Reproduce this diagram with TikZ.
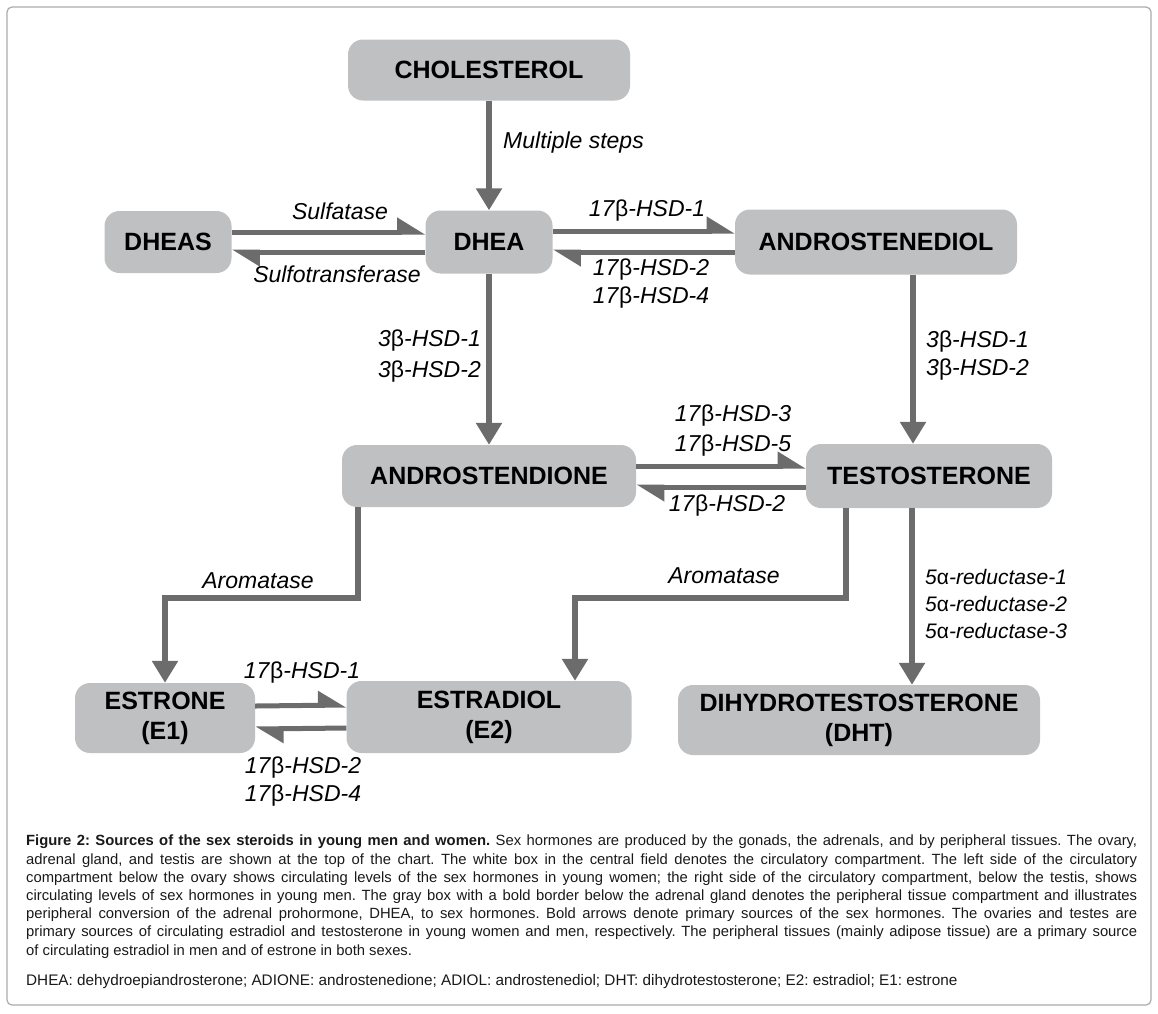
\documentclass[tikz,border=0pt]{standalone}
\usepackage{fontspec}
\setmainfont{Liberation Sans}
\usetikzlibrary{arrows.meta}
\definecolor{boxgray}{RGB}{190,192,193}
\definecolor{arrowgray}{RGB}{108,108,108}
\definecolor{framegray}{RGB}{170,170,170}
\newcommand\capspacing{\spaceskip=0.278em plus 0.4em minus 0.22em\relax}
\newcommand\capline[1]{\hbox to 1111pt{#1}}
\tikzset{
    steroid/.style={fill=boxgray, rounded corners=15pt, inner sep=0pt, align=center,
        font=\fontsize{25}{30}\selectfont\bfseries, text=black},
    enzyme/.style={inner sep=0pt, font=\fontsize{23}{28}\selectfont\itshape, text=black},
    conv/.style={draw=arrowgray, line width=5.5pt, -{Triangle[width=25pt,length=22pt]}},
    half/.style={draw=arrowgray, line width=5pt, -{Triangle[harpoon,width=28pt,length=24pt]}},
    caption/.style={inner sep=0pt, text=black!90, font=\fontsize{14.8}{18.2}\selectfont\frenchspacing}
}
\begin{document}
\begin{tikzpicture}[x=1pt, y=-1pt]
    \useasboundingbox (0,0) rectangle (1158,1013);
    \draw[framegray, line width=1.2pt, rounded corners=5pt] (7,7) rectangle (1151,1005);
    % steroids
    \node[steroid, minimum width=282pt, minimum height=61pt] (chol) at (489,70) {CHOLESTEROL};
    \node[steroid, minimum width=127pt, minimum height=62pt] (dheas) at (168,242) {DHEAS};
    \node[steroid, minimum width=127pt, minimum height=63pt] (dhea) at (489,242) {DHEA};
    \node[steroid, minimum width=282pt, minimum height=65pt] (adiol) at (876,242) {ANDROSTENEDIOL};
    \node[steroid, minimum width=294pt, minimum height=62pt] (adione) at (489,476) {ANDROSTENDIONE};
    \node[steroid, minimum width=246pt, minimum height=64pt] (testo) at (929,476) {TESTOSTERONE};
    \node[steroid, minimum width=180pt, minimum height=70pt] (estrone) at (165,718) {ESTRONE\\(E1)};
    \node[steroid, minimum width=285pt, minimum height=72pt] (estradiol) at (489,717) {ESTRADIOL\\(E2)};
    \node[steroid, minimum width=362pt, minimum height=70pt] (dht) at (859,720) {DIHYDROTESTOSTERONE\\(DHT)};
    % conversions
    \draw[conv] (chol.south) -- (dhea.north);
    \draw[half] ([yshift=10pt]dheas.east) -- ([yshift=10pt]dhea.west);
    \draw[half] ([yshift=-10pt]dhea.west) -- ([yshift=-10pt]dheas.east);
    \draw[half] ([yshift=11pt]dhea.east) -- ([yshift=11pt]adiol.west);
    \draw[half] ([yshift=-10pt]adiol.west) -- ([yshift=-10pt]dhea.east);
    \draw[conv] (dhea.south) -- (adione.north);
    \draw[conv] ([xshift=37pt]adiol.south) -- ([xshift=37pt]adiol.south |- testo.north);
    \draw[half] ([yshift=10pt]adione.east) -- ([yshift=10pt]testo.west);
    \draw[half] ([yshift=-11pt]testo.west) -- ([yshift=-11pt]adione.east);
    \draw[conv] ([xshift=-131pt]adione.south) -- ++(0,91) -| (estrone.north);
    \draw[conv] ([xshift=-83pt]testo.south) -- ++(0,90) -| ([xshift=86pt]estradiol.north);
    \draw[conv] ([xshift=-17pt]testo.south) -- ([xshift=-17pt]testo.south |- dht.north);
    \draw[half] ([yshift=12pt]estrone.east) -- ([yshift=12pt]estradiol.west);
    \draw[half] ([yshift=-11pt]estradiol.west) -- ([yshift=-11pt]estrone.east);
    % enzymes
    \node[enzyme, anchor=west] (msteps) at (503,143) {Multiple steps};
    \node[enzyme] (sulfa) at (340,211) {Sulfatase};
    \node[enzyme] (sulfo) at (337,274) {Sulfotransferase};
    \node[enzyme] (hsdA) at (647,211) {17\textup{β}-HSD-1};
    \node[enzyme, align=center] (hsdB) at (651,284) {17\textup{β}-HSD-2\\17\textup{β}-HSD-4};
    \node[enzyme, anchor=east, align=right] (hsdC) at (481,356) {3\textup{β}-HSD-1\\[3pt]3\textup{β}-HSD-2};
    \node[enzyme, anchor=west, align=left] (hsdD) at (926,356) {3\textup{β}-HSD-1\\3\textup{β}-HSD-2};
    \node[enzyme, align=center] (hsdE) at (733,431) {17\textup{β}-HSD-3\\[2pt]17\textup{β}-HSD-5};
    \node[enzyme] (hsdF) at (727,506) {17\textup{β}-HSD-2};
    \node[enzyme] (aromA) at (258,581) {Aromatase};
    \node[enzyme] (aromB) at (724,576) {Aromatase};
    \node[enzyme, anchor=west, align=left, font=\fontsize{21}{27}\selectfont\itshape] (red) at (925,604)
        {5\textup{α}-reductase-1\\5\textup{α}-reductase-2\\5\textup{α}-reductase-3};
    \node[enzyme] (hsdG) at (302,673) {17\textup{β}-HSD-1};
    \node[enzyme, align=center] (hsdH) at (303,782) {17\textup{β}-HSD-2\\17\textup{β}-HSD-4};
    % legend
    \node[caption, anchor=north west, text width=1111pt] (capt) at (26,835)
        {\capspacing
        \capline{\textbf{Figure 2: Sources of the sex steroids in young men and women.} Sex hormones are produced by the gonads, the adrenals, and by peripheral tissues. The ovary,}
        \capline{adrenal gland, and testis are shown at the top of the chart. The white box in the central field denotes the circulatory compartment. The left side of the circulatory}
        \capline{compartment below the ovary shows circulating levels of the sex hormones in young women; the right side of the circulatory compartment, below the testis, shows}
        \capline{circulating levels of sex hormones in young men. The gray box with a bold border below the adrenal gland denotes the peripheral tissue compartment and illustrates}
        \capline{peripheral conversion of the adrenal prohormone, DHEA, to sex hormones. Bold arrows denote primary sources of the sex hormones. The ovaries and testes are}
        \capline{primary sources of circulating estradiol and testosterone in young women and men, respectively. The peripheral tissues (mainly adipose tissue) are a primary source}
        \hbox{of circulating estradiol in men and of estrone in both sexes.}};
    \node[caption, anchor=base west, font=\fontsize{15.3}{18.2}\selectfont\frenchspacing] (abbr) at (26,985)
        {DHEA: dehydroepiandrosterone; ADIONE: androstenedione; ADIOL: androstenediol; DHT: dihydrotestosterone; E2: estradiol; E1: estrone};
\end{tikzpicture}
\end{document}
